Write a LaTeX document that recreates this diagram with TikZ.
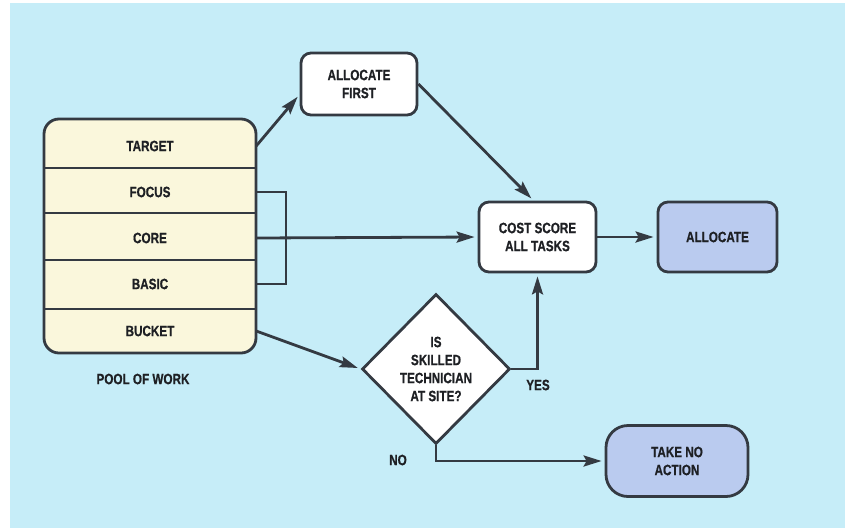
\documentclass[tikz,border=0pt]{standalone}
\usepackage{fontspec}
\setmainfont{Liberation Sans}[FakeStretch=0.78, BoldFeatures={FakeBold=0.6}]
\usetikzlibrary{shapes.geometric,arrows.meta}
\definecolor{bgblue}{RGB}{198,237,248}
\definecolor{poolfill}{RGB}{250,247,220}
\definecolor{actfill}{RGB}{186,203,239}
\definecolor{inkline}{RGB}{52,58,66}
\definecolor{inktext}{RGB}{30,32,36}
\begin{document}
\begin{tikzpicture}[x=1pt,y=-1pt,
  lbl/.style={font=\fontsize{15}{18}\selectfont\bfseries, text=inktext, align=center},
  row/.style={lbl, minimum width=212pt, inner sep=0pt},
  stepbox/.style={lbl, draw=inkline, line width=2.8pt, fill=white, rounded corners=10pt,
    minimum width=116pt, minimum height=62pt, inner sep=2pt},
  actbox/.style={stepbox, fill=actfill},
  decide/.style={lbl, draw=inkline, line width=2.8pt, fill=white, diamond, aspect=0.987,
    minimum width=148pt, minimum height=150pt, inner sep=0pt},
  link/.style={draw=inkline, line width=2.8pt},
  flow/.style={link, -{Stealth[length=18pt,width=11pt,inset=3pt]}, shorten >=3pt},
]
% page and coloured panel
\useasboundingbox (0,0) rectangle (845,528);
\fill[white] (0,0) rectangle (845,528);
\fill[bgblue] (10,3) rectangle (845,528);

% pool of work: outer box, row dividers and row labels
\draw[inkline, fill=poolfill, line width=2.8pt, rounded corners=15pt] (44,119) rectangle (256,353);
\foreach \yy in {168,213,260,309}
  \draw[inkline, line width=2.8pt] (44,\yy) -- (256,\yy);
\node[row, minimum height=49pt] (target) at (150,146) {TARGET};
\node[row, minimum height=45pt] (focus)  at (150,192) {FOCUS};
\node[row, minimum height=47pt] (core)   at (150,238) {CORE};
\node[row, minimum height=49pt] (basic)  at (150,284) {BASIC};
\node[row, minimum height=44pt] (bucket) at (150,331) {BUCKET};
\node[lbl] (poolcap) at (143,379) {POOL OF WORK};

% process steps
\node[stepbox, minimum height=62pt] (first) at (359,84) {ALLOCATE\\FIRST};
\node[stepbox, minimum height=70pt, minimum width=117pt] (cost) at (537.5,237) {COST SCORE\\ALL TASKS};
\node[actbox, minimum height=70pt, minimum width=119pt] (alloc) at (717.5,237) {ALLOCATE};
\node[actbox, minimum height=71pt, minimum width=142pt, rounded corners=22pt] (noact) at (677,461) {TAKE NO\\ACTION};
\node[decide] (skill) at (436,369) {IS\\SKILLED\\TECHNICIAN\\AT SITE?};

% branch labels
\node[lbl] (yeslbl) at (538,385) {YES};
\node[lbl] (nolbl) at (398,460) {NO};

% bracket joining FOCUS, CORE and BASIC
\coordinate (brtop) at (286,192);
\coordinate (brbot) at (286,284);
\draw[link, line join=miter] (focus.east) -- (brtop) -- (brbot) -- (basic.east);

% connectors
\draw[flow] (target.east) -- (first.190);
\draw[flow] (first.east) -- ([xshift=-4pt]cost.north);
\draw[flow] (core.east) -- (cost.west);
\draw[flow] (cost.east) -- (alloc.west);
\draw[flow] (bucket.east) -- (skill.west);
\draw[flow] (skill.east) -| (cost.south);
\draw[flow] (skill.south) |- (noact.west);
\end{tikzpicture}
\end{document}
